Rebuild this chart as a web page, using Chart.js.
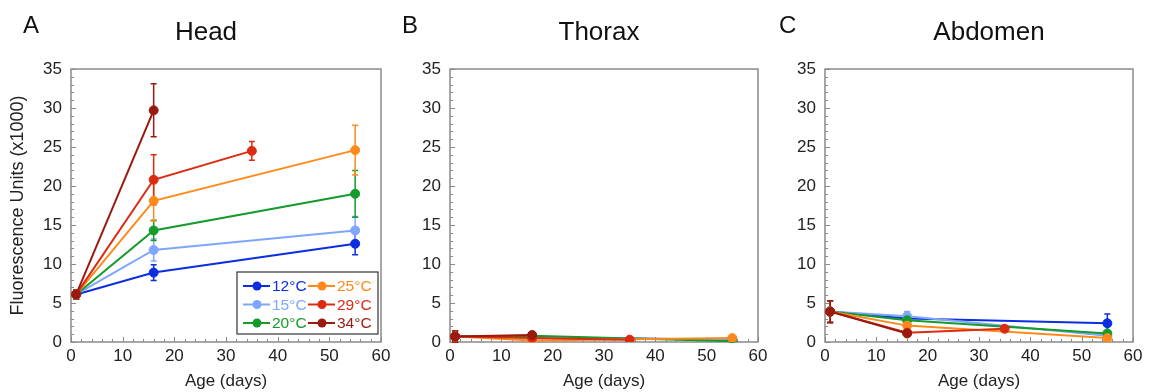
<!DOCTYPE html>
<html>
<head>
<meta charset="utf-8">
<script src="https://cdn.jsdelivr.net/npm/chart.js@4/dist/chart.umd.min.js"></script>
<style>
  html, body { margin: 0; padding: 0; background: #fff; }
  #wrap { position: relative; width: 1155px; height: 392px; background: #fff; overflow: hidden; }
  canvas { position: absolute; top: 0; }
  .lab { position: absolute; font-family: "Liberation Sans", Arial, sans-serif; color: #111; font-size: 24px; line-height: normal; white-space: nowrap; }
  .ttl { width: 200px; text-align: center; font-size: 26px; }
</style>
</head>
<body>
<div id="wrap">
  <canvas id="cA" width="395" height="392" style="left:0px"></canvas>
  <canvas id="cB" width="380" height="392" style="left:395px"></canvas>
  <canvas id="cC" width="380" height="392" style="left:775px"></canvas>
  <div class="lab" style="left:23px;top:11px">A</div>
  <div class="lab" style="left:402px;top:11px">B</div>
  <div class="lab" style="left:779px;top:11px">C</div>
  <div class="lab ttl" style="left:106px;top:16px">Head</div>
  <div class="lab ttl" style="left:499px;top:16px">Thorax</div>
  <div class="lab ttl" style="left:889px;top:16px">Abdomen</div>
</div>
<script>
// ---- categories / x values ----
const seriesLabels = ['12°C', '15°C', '20°C', '25°C', '29°C', '34°C'];
const seriesColors = ['#0a2ee0', '#7fa6ff', '#149b2b', '#ff8a1c', '#dd2a10', '#9a1a10'];
const days12 = [1, 16, 55];
const days15 = [1, 16, 55];
const days20 = [1, 16, 55];
const days25 = [1, 16, 55];
const days29 = [1, 16, 35];
const days34 = [1, 16];
const xTicks = [0, 10, 20, 30, 40, 50, 60];
const yTicks = [0, 5, 10, 15, 20, 25, 30, 35];

// ---- Head ----
const head12 = [6.1, 8.9, 12.6];
const head15 = [6.1, 11.8, 14.3];
const head20 = [6.1, 14.3, 19.0];
const head25 = [6.1, 18.1, 24.6];
const head29 = [6.1, 20.8, 24.5];
const head34 = [6.1, 29.7];
const headErr12 = [0.6, 1.0, 1.4];
const headErr15 = [0.6, 1.4, 1.8];
const headErr20 = [0.6, 1.3, 3.0];
const headErr25 = [0.6, 2.6, 3.2];
const headErr29 = [0.6, 3.2, 1.2];
const headErr34 = [0.6, 3.4];

// ---- Thorax ----
const thorax12 = [0.7, 0.6, 0.3];
const thorax15 = [0.7, 0.6, 0.3];
const thorax20 = [0.7, 0.8, 0.1];
const thorax25 = [0.7, 0.2, 0.5];
const thorax29 = [0.7, 0.5, 0.3];
const thorax34 = [0.7, 0.9];
const thoraxErr12 = [0.7, 0.2, 0.1];
const thoraxErr15 = [0.7, 0.2, 0.1];
const thoraxErr20 = [0.7, 0.2, 0.1];
const thoraxErr25 = [0.7, 0.2, 0.2];
const thoraxErr29 = [0.7, 0.2, 0.1];
const thoraxErr34 = [0.7, 0.2];

// ---- Abdomen ----
const abd12 = [3.9, 3.0, 2.4];
const abd15 = [3.9, 3.3, 0.8];
const abd20 = [3.9, 2.8, 1.1];
const abd25 = [3.9, 2.1, 0.5];
const abd29 = [3.9, 1.2, 1.7];
const abd34 = [3.9, 1.1];
const abdErr12 = [1.4, 0.4, 1.2];
const abdErr15 = [1.4, 0.6, 0.3];
const abdErr20 = [1.4, 0.3, 0.3];
const abdErr25 = [1.4, 0.3, 0.2];
const abdErr29 = [1.4, 0.2, 0.2];
const abdErr34 = [1.4, 0.3];

const dayLists = [days12, days15, days20, days25, days29, days34];
const FONT = '"Liberation Sans", Arial, sans-serif';

function buildDatasets(vals, errs) {
  return vals.map((v, i) => ({
    label: seriesLabels[i],
    data: dayLists[i].map((d, j) => ({ x: d, y: v[j] })),
    err: errs[i],
    borderColor: seriesColors[i],
    backgroundColor: seriesColors[i],
    pointBackgroundColor: seriesColors[i],
    pointBorderColor: seriesColors[i],
    pointRadius: 4.5,
    pointBorderWidth: 1,
    borderWidth: 2,
    tension: 0,
    order: 6 - i
  }));
}

const framePlugin = {
  id: 'frameTicks',
  beforeDatasetsDraw(chart) {
    const { ctx, chartArea: a, scales } = chart;
    const xs = scales.x, ys = scales.y;
    ctx.save();
    ctx.strokeStyle = '#8a8a8a';
    ctx.lineWidth = 1;
    for (let v = 0; v <= 35; v += 1) {
      const y = Math.round(ys.getPixelForValue(v)) + 0.5;
      const len = (v % 5 === 0) ? 5 : 3;
      ctx.beginPath(); ctx.moveTo(a.left, y); ctx.lineTo(a.left + len, y); ctx.stroke();
    }
    for (let v = 0; v <= 60; v += 2) {
      const x = Math.round(xs.getPixelForValue(v)) + 0.5;
      const len = (v % 10 === 0) ? 5 : 3;
      ctx.beginPath(); ctx.moveTo(x, a.bottom); ctx.lineTo(x, a.bottom - len); ctx.stroke();
    }
    ctx.lineWidth = 1.5;
    ctx.strokeStyle = '#8a8a8a';
    ctx.strokeRect(a.left, a.top, a.right - a.left, a.bottom - a.top);
    chart.data.datasets.forEach((ds) => {
      ctx.strokeStyle = ds.borderColor;
      ctx.lineWidth = 1.5;
      ds.data.forEach((p, j) => {
        const e = ds.err[j];
        const x = xs.getPixelForValue(p.x);
        const y1 = ys.getPixelForValue(p.y + e);
        const y2 = ys.getPixelForValue(Math.max(0, p.y - e));
        ctx.beginPath();
        ctx.moveTo(x, y1); ctx.lineTo(x, y2);
        ctx.moveTo(x - 3, y1); ctx.lineTo(x + 3, y1);
        ctx.moveTo(x - 3, y2); ctx.lineTo(x + 3, y2);
        ctx.stroke();
      });
    });
    ctx.restore();
  },
  afterDatasetsDraw(chart, args, opts) {
    if (!opts.legend) return;
    const { ctx, chartArea: a } = chart;
    const w = 141, h = 62;
    const bx = a.right - 3 - w, by = a.bottom - 8 - h;
    ctx.save();
    ctx.fillStyle = '#fff';
    ctx.fillRect(bx, by, w, h);
    ctx.strokeStyle = '#333';
    ctx.lineWidth = 1.2;
    ctx.strokeRect(bx, by, w, h);
    ctx.font = '15.5px ' + FONT;
    ctx.textBaseline = 'middle';
    chart.data.datasets.forEach((ds, i) => {
      const col = Math.floor(i / 3), row = i % 3;
      const lx = bx + 6 + col * 65;
      const ly = by + 14 + row * 18.5;
      ctx.strokeStyle = ds.borderColor;
      ctx.lineWidth = 2;
      ctx.beginPath(); ctx.moveTo(lx, ly); ctx.lineTo(lx + 27, ly); ctx.stroke();
      ctx.fillStyle = ds.borderColor;
      ctx.beginPath(); ctx.arc(lx + 14, ly, 4.5, 0, Math.PI * 2); ctx.fill();
      ctx.fillText(ds.label, lx + 29, ly + 1);
    });
    ctx.restore();
  }
};

function makeChart(id, vals, errs, yWidth, rightPad, showYTitle, legend) {
  return new Chart(document.getElementById(id), {
    type: 'line',
    data: { datasets: buildDatasets(vals, errs) },
    plugins: [framePlugin],
    options: {
      responsive: false,
      animation: false,
      devicePixelRatio: 1,
      layout: { padding: { top: 69, right: rightPad, left: 0, bottom: 0 } },
      plugins: {
        legend: { display: false },
        tooltip: { enabled: false },
        frameTicks: { legend: legend }
      },
      scales: {
        x: {
          type: 'linear', min: 0, max: 60,
          afterBuildTicks: s => { s.ticks = xTicks.map(v => ({ value: v })); },
          ticks: { font: { family: FONT, size: 17 }, color: '#222', padding: 4, maxRotation: 0 },
          grid: { display: false, drawTicks: false },
          border: { display: false },
          title: { display: true, text: 'Age (days)', font: { family: FONT, size: 17 }, color: '#222', padding: { top: 0, bottom: 0 } },
          afterFit: s => { s.height = 50; }
        },
        y: {
          type: 'linear', min: 0, max: 35,
          afterBuildTicks: s => { s.ticks = yTicks.map(v => ({ value: v })); },
          ticks: { font: { family: FONT, size: 17 }, color: '#222', padding: 9 },
          grid: { display: false, drawTicks: false },
          border: { display: false },
          title: { display: showYTitle, text: 'Fluorescence Units (x1000)', font: { family: FONT, size: 18 }, color: '#222', padding: { top: 7, bottom: 0 } },
          afterFit: s => { s.width = yWidth; }
        }
      }
    }
  });
}

makeChart('cA',
  [head12, head15, head20, head25, head29, head34],
  [headErr12, headErr15, headErr20, headErr25, headErr29, headErr34],
  71, 14, true, true);
makeChart('cB',
  [thorax12, thorax15, thorax20, thorax25, thorax29, thorax34],
  [thoraxErr12, thoraxErr15, thoraxErr20, thoraxErr25, thoraxErr29, thoraxErr34],
  55, 17, false, false);
makeChart('cC',
  [abd12, abd15, abd20, abd25, abd29, abd34],
  [abdErr12, abdErr15, abdErr20, abdErr25, abdErr29, abdErr34],
  50, 22, false, false);
</script>
</body>
</html>
